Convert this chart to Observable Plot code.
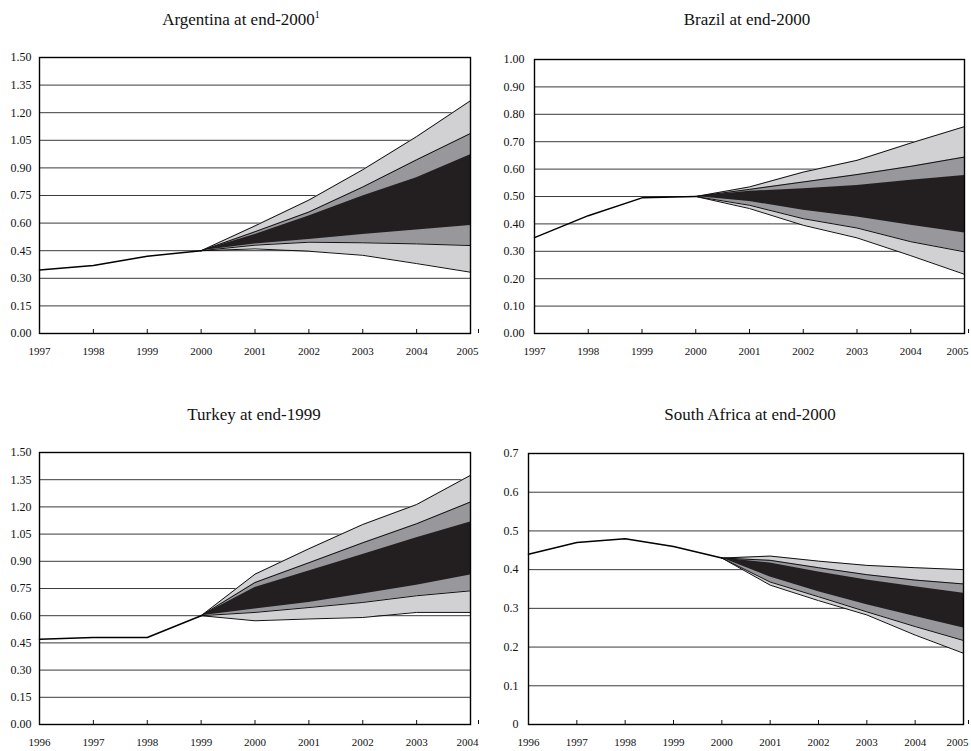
<!DOCTYPE html>
<html><head><meta charset="utf-8">
<script src="https://cdn.jsdelivr.net/npm/d3@7"></script>
<script src="https://cdn.jsdelivr.net/npm/@observablehq/plot@0.6"></script>
<style>
body{margin:0;background:#fff;}
#wrap{position:relative;width:971px;height:751px;background:#fff;font-family:"Liberation Serif","Times New Roman",serif;}
.title{position:absolute;font-size:17px;line-height:20px;transform:translateX(-50%);white-space:nowrap;color:#111;}
.title sup{font-size:10px;line-height:0;vertical-align:7px;}
.panel{position:absolute;}
.panel svg{overflow:visible;}
.panel svg text{font-family:"Liberation Serif","Times New Roman",serif !important;}
</style></head><body><div id="wrap"></div>
<script>
// ---------- Argentina at end-2000 ----------
const argHistYears = [1997, 1998, 1999, 2000];
const argHist      = [0.345, 0.37, 0.42, 0.45];
const argFanYears  = [2000, 2001, 2002, 2003, 2004, 2005];
const argOuterHi   = [0.45, 0.585, 0.725, 0.89, 1.07, 1.265];
const argMidHi     = [0.45, 0.553, 0.66, 0.796, 0.944, 1.087];
const argDarkHi    = [0.45, 0.538, 0.638, 0.747, 0.847, 0.971];
const argDarkLo    = [0.45, 0.487, 0.511, 0.538, 0.562, 0.587];
const argMidLo     = [0.45, 0.48, 0.496, 0.493, 0.487, 0.478];
const argOuterLo   = [0.45, 0.46, 0.447, 0.425, 0.38, 0.333];
const argXTicks    = [1997, 1998, 1999, 2000, 2001, 2002, 2003, 2004, 2005];
const argYTicks    = [0, 0.15, 0.30, 0.45, 0.60, 0.75, 0.90, 1.05, 1.20, 1.35, 1.50];
const argYLabels   = ["0.00","0.15","0.30","0.45","0.60","0.75","0.90","1.05","1.20","1.35","1.50"];

// ---------- Brazil at end-2000 ----------
const braHistYears = [1997, 1998, 1999, 2000];
const braHist      = [0.35, 0.43, 0.495, 0.50];
const braFanYears  = [2000, 2001, 2002, 2003, 2004, 2005];
const braOuterHi   = [0.50, 0.535, 0.589, 0.632, 0.695, 0.755];
const braMidHi     = [0.50, 0.526, 0.553, 0.58, 0.61, 0.644];
const braDarkHi    = [0.50, 0.519, 0.528, 0.54, 0.559, 0.577];
const braDarkLo    = [0.50, 0.482, 0.45, 0.425, 0.395, 0.367];
const braMidLo     = [0.50, 0.468, 0.419, 0.385, 0.335, 0.298];
const braOuterLo   = [0.50, 0.456, 0.395, 0.349, 0.284, 0.216];
const braXTicks    = [1997, 1998, 1999, 2000, 2001, 2002, 2003, 2004, 2005];
const braYTicks    = [0, 0.1, 0.2, 0.3, 0.4, 0.5, 0.6, 0.7, 0.8, 0.9, 1.0];
const braYLabels   = ["0.00","0.10","0.20","0.30","0.40","0.50","0.60","0.70","0.80","0.90","1.00"];

// ---------- Turkey at end-1999 ----------
const turHistYears = [1996, 1997, 1998, 1999];
const turHist      = [0.47, 0.48, 0.48, 0.60];
const turFanYears  = [1999, 2000, 2001, 2002, 2003, 2004];
const turOuterHi   = [0.60, 0.829, 0.969, 1.103, 1.213, 1.374];
const turMidHi     = [0.60, 0.783, 0.892, 1.002, 1.107, 1.227];
const turDarkHi    = [0.60, 0.755, 0.847, 0.938, 1.03, 1.117];
const turDarkLo    = [0.60, 0.637, 0.673, 0.719, 0.768, 0.825];
const turMidLo     = [0.60, 0.618, 0.645, 0.673, 0.71, 0.737];
const turOuterLo   = [0.60, 0.572, 0.582, 0.59, 0.618, 0.618];
const turXTicks    = [1996, 1997, 1998, 1999, 2000, 2001, 2002, 2003, 2004];
const turYTicks    = argYTicks;
const turYLabels   = argYLabels;

// ---------- South Africa at end-2000 ----------
const safHistYears = [1996, 1997, 1998, 1999, 2000];
const safHist      = [0.44, 0.47, 0.48, 0.46, 0.43];
const safFanYears  = [2000, 2001, 2002, 2003, 2004, 2005];
const safOuterHi   = [0.43, 0.435, 0.422, 0.411, 0.405, 0.400];
const safMidHi     = [0.43, 0.424, 0.405, 0.387, 0.373, 0.363];
const safDarkHi    = [0.43, 0.417, 0.394, 0.373, 0.356, 0.339];
const safDarkLo    = [0.43, 0.381, 0.343, 0.309, 0.279, 0.249];
const safMidLo     = [0.43, 0.368, 0.33, 0.291, 0.253, 0.217];
const safOuterLo   = [0.43, 0.36, 0.32, 0.283, 0.231, 0.184];
const safXTicks    = [1996, 1997, 1998, 1999, 2000, 2001, 2002, 2003, 2004, 2005];
const safYTicks    = [0, 0.1, 0.2, 0.3, 0.4, 0.5, 0.6, 0.7];
const safYLabels   = ["0","0.1","0.2","0.3","0.4","0.5","0.6","0.7"];

const LIGHT = "#d1d1d3", MID = "#98989c", DARK = "#231f20";
const SERIF = "'Liberation Serif','Times New Roman',serif";

function panel(o) {
  const fan = o.fanYears.map((x, i) => ({
    x, oLo: o.outerLo[i], mLo: o.midLo[i], dLo: o.darkLo[i],
    dHi: o.darkHi[i], mHi: o.midHi[i], oHi: o.outerHi[i]
  }));
  const hist = o.histYears.map((x, i) => ({x, y: o.hist[i]}));
  const lineOpts = (y) => Plot.lineY(fan, {x: "x", y, stroke: "#111", strokeWidth: 1});
  const inner = o.xTicks.slice(0, -1), last = o.xTicks.slice(-1);
  return Plot.plot({
    width: o.width, height: o.height,
    marginLeft: o.ml, marginRight: o.mr, marginTop: o.mt, marginBottom: o.mb,
    style: {fontFamily: SERIF, background: "#fff", color: "#111", overflow: "visible"},
    x: {domain: [o.xTicks[0], o.xTicks[o.xTicks.length - 1]], label: null},
    y: {domain: [0, o.yTicks[o.yTicks.length - 1]], label: null},
    marks: [
      Plot.ruleY(o.yTicks, {stroke: "#3a3a3a", strokeWidth: 1}),
      Plot.areaY(fan, {x: "x", y1: "oLo", y2: "oHi", fill: LIGHT}),
      Plot.areaY(fan, {x: "x", y1: "mLo", y2: "mHi", fill: MID}),
      Plot.areaY(fan, {x: "x", y1: "dLo", y2: "dHi", fill: DARK}),
      lineOpts("oHi"), lineOpts("mHi"), lineOpts("mLo"), lineOpts("oLo"),
      Plot.lineY(hist, {x: "x", y: "y", stroke: "#000", strokeWidth: 1.5}),
      Plot.frame({stroke: "#000", strokeWidth: 1.4}),
      Plot.axisX({ticks: inner, tickFormat: d => String(d), tickSize: -4, tickPadding: 18, fontSize: 11, fontFamily: SERIF, label: null}),
      Plot.axisX({ticks: last, tickFormat: d => String(d), tickSize: -4, tickPadding: 18, fontSize: 11, fontFamily: SERIF, label: null, textAnchor: "end", dx: o.lastDx}),
      Plot.axisY({ticks: o.yTicks, tickFormat: d => o.yLabels[o.yTicks.indexOf(d)], tickSize: 0, tickPadding: o.yPad, fontSize: 12, fontFamily: SERIF, label: null})
    ]
  });
}

const wrap = document.getElementById("wrap");
function place(node, left, top) {
  const d = document.createElement("div");
  d.className = "panel"; d.style.left = left + "px"; d.style.top = top + "px";
  d.appendChild(node); wrap.appendChild(d);
}
function title(html, cx, top) {
  const d = document.createElement("div");
  d.className = "title"; d.style.left = cx + "px"; d.style.top = top + "px";
  d.innerHTML = html; wrap.appendChild(d);
}

place(panel({histYears: argHistYears, hist: argHist, fanYears: argFanYears,
  outerHi: argOuterHi, midHi: argMidHi, darkHi: argDarkHi, darkLo: argDarkLo, midLo: argMidLo, outerLo: argOuterLo,
  xTicks: argXTicks, yTicks: argYTicks, yLabels: argYLabels, lastDx: 8,
  width: 485, height: 340, ml: 39, mr: 15, mt: 17, mb: 47, yPad: 8}), 0, 40);

place(panel({histYears: braHistYears, hist: braHist, fanYears: braFanYears,
  outerHi: braOuterHi, midHi: braMidHi, darkHi: braDarkHi, darkLo: braDarkLo, midLo: braMidLo, outerLo: braOuterLo,
  xTicks: braXTicks, yTicks: braYTicks, yLabels: braYLabels, lastDx: 4,
  width: 486, height: 340, ml: 49, mr: 7, mt: 19, mb: 47, yPad: 10}), 485, 40);

place(panel({histYears: turHistYears, hist: turHist, fanYears: turFanYears,
  outerHi: turOuterHi, midHi: turMidHi, darkHi: turDarkHi, darkLo: turDarkLo, midLo: turMidLo, outerLo: turOuterLo,
  xTicks: turXTicks, yTicks: turYTicks, yLabels: turYLabels, lastDx: 8,
  width: 485, height: 331, ml: 39, mr: 15, mt: 32, mb: 27, yPad: 8}), 0, 420);

place(panel({histYears: safHistYears, hist: safHist, fanYears: safFanYears,
  outerHi: safOuterHi, midHi: safMidHi, darkHi: safDarkHi, darkLo: safDarkLo, midLo: safMidLo, outerLo: safOuterLo,
  xTicks: safXTicks, yTicks: safYTicks, yLabels: safYLabels, lastDx: 5,
  width: 486, height: 331, ml: 43, mr: 8, mt: 33, mb: 27, yPad: 10}), 485, 420);

title("Argentina at end-2000<sup>1</sup>", 241, 10);
title("Brazil at end-2000", 747, 10);
title("Turkey at end-1999", 254, 405);
title("South Africa at end-2000", 750, 405);
</script>
</body></html>
